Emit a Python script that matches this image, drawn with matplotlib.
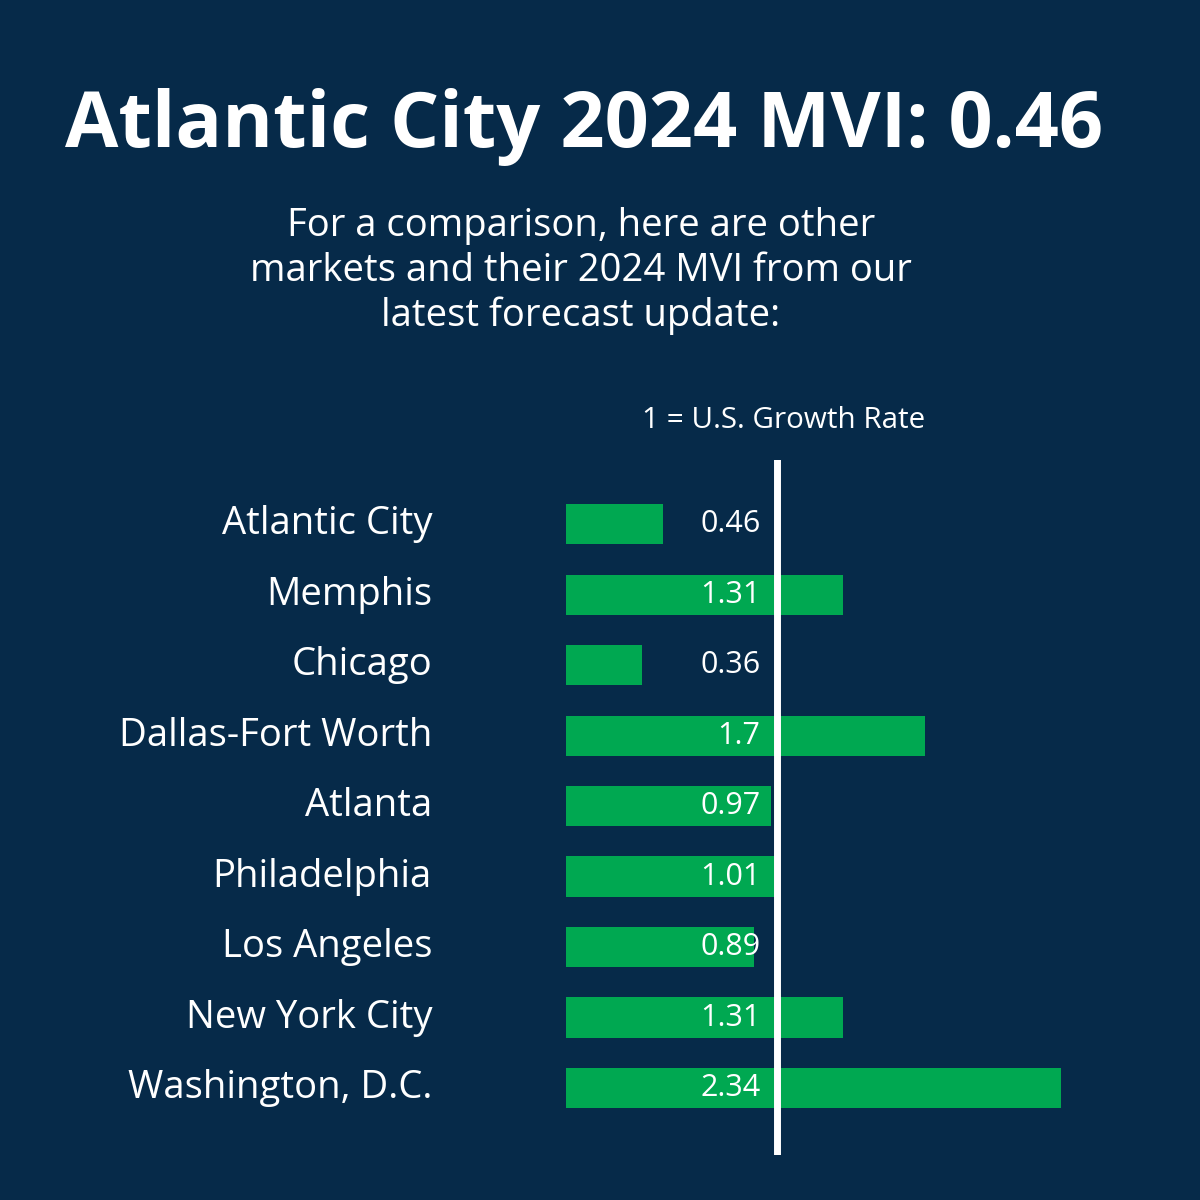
import matplotlib
matplotlib.use("Agg")
import matplotlib.pyplot as plt
import matplotlib.transforms as mtransforms

# ---- data ----
cities = ["Atlantic City", "Memphis", "Chicago", "Dallas-Fort Worth", "Atlanta",
          "Philadelphia", "Los Angeles", "New York City", "Washington, D.C."]
mvi = [0.46, 1.31, 0.36, 1.7, 0.97, 1.01, 0.89, 1.31, 2.34]
value_labels = ["0.46", "1.31", "0.36", "1.7", "0.97", "1.01", "0.89", "1.31", "2.34"]

title = "Atlantic City 2024 MVI: 0.46"
subtitle = ("For a comparison, here are other\n"
            "markets and their 2024 MVI from our\n"
            "latest forecast update:")
ref_label = "1 = U.S. Growth Rate"

BG = "#062a49"
GREEN = "#00a851"

plt.rcParams["font.family"] = ["Open Sans", "DejaVu Sans"]

W = H = 1200
fig = plt.figure(figsize=(12, 12), dpi=100, facecolor=BG)

# bar axes: left edge at 566 px, reference line spans 460..1155 px
ax = fig.add_axes([566 / W, 1 - 1155 / H, 634 / W, (1155 - 460) / H])
ax.set_facecolor(BG)
ax.set_xlim(0, 3.0)
ax.set_ylim(8.95, -0.91)
ypos = list(range(len(cities)))
ax.barh(ypos, mvi, height=0.57, color=GREEN, zorder=2)
ax.axvline(1, color="white", lw=5, zorder=3)
for y, lab in zip(ypos, value_labels):
    ax.text(0.92, y, lab, ha="right", va="center", color="white", fontsize=22, zorder=4)

# city names: x in figure coords, y in data coords
trans = mtransforms.blended_transform_factory(fig.transFigure, ax.transData)
for y, c in zip(ypos, cities):
    ax.text(432 / W, y, c, transform=trans, ha="right", va="center",
            color="white", fontsize=27.5)
ax.axis("off")

fig.text(584 / W, 1 - 127 / H, title, ha="center", va="center", color="white",
         fontsize=55.7, fontweight="bold")
fig.text(581 / W, 1 - 271 / H, subtitle, ha="center", va="center", color="white",
         fontsize=27.5, linespacing=1.24)
fig.text(784 / W, 1 - 421 / H, ref_label, ha="center", va="center", color="white",
         fontsize=21.3)

fig.savefig("out.png", dpi=100, facecolor=BG)
